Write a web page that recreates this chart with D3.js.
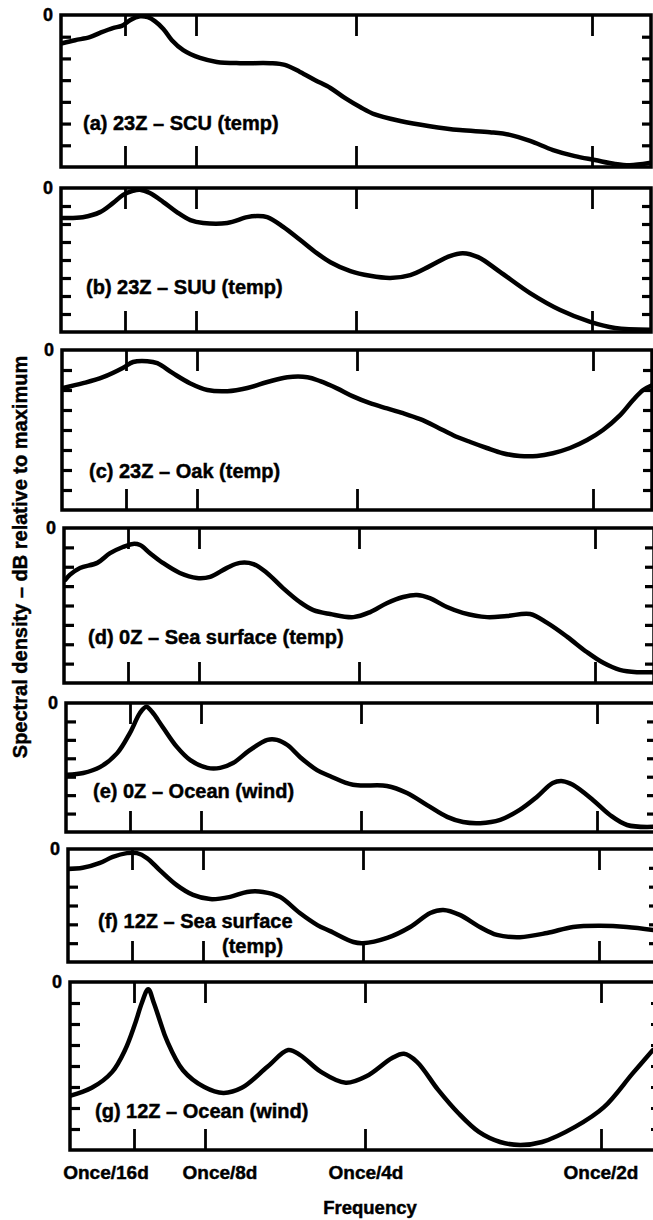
<!DOCTYPE html>
<html>
<head>
<meta charset="utf-8">
<script src="https://cdn.jsdelivr.net/npm/d3@7"></script>
<style>
  html, body { margin: 0; padding: 0; background: #fff; }
  svg { display: block; }
  text { font-family: "Liberation Sans", Arial, Helvetica, sans-serif; font-weight: bold; fill: #000; stroke: #000; stroke-width: 0.45px; }
</style>
</head>
<body>
<svg id="chart" width="653" height="1220"></svg>
<script>
// Frequency axis in cycles per 16 days: 1 = once/16d, 2 = once/8d, 4 = once/4d, 8 = once/2d
const freqTicks = [1, 2, 4, 8];
const freqTickLabels = ["Once/16d", "Once/8d", "Once/4d", "Once/2d"];

// Panel captions
const panelLabels = [
  ["(a) 23Z – SCU (temp)"],
  ["(b) 23Z – SUU (temp)"],
  ["(c) 23Z – Oak (temp)"],
  ["(d) 0Z – Sea surface (temp)"],
  ["(e) 0Z – Ocean (wind)"],
  ["(f) 12Z – Sea surface", "(temp)"],
  ["(g) 12Z – Ocean (wind)"]
];

// Lowest level shown in each panel (dB relative to maximum); ticks every 5 dB
const dbFloors = [-35, -40, -40, -40, -35, -30, -40];
const dbStep = 5;

// Spectral density curves (frequency in cycles/16 days, level in dB)
const aFreq = [0.02,0.22,0.45,0.61,0.81,0.95,1.07,1.21,1.32,1.42,1.54,1.66,1.82,2.05,2.26,2.55,2.93,3.11,3.30,3.49,3.68,3.86,4.07,4.32,4.75,5.25,5.76,6.27,6.61,6.95,7.34,7.71,8.05,8.39,8.64,8.97];
const aDb   = [-6.5,-5.8,-5.1,-4.1,-3.0,-2.5,-1.2,-0.3,-0.5,-1.4,-3.2,-5.8,-8.1,-9.9,-10.8,-11.1,-11.1,-11.5,-13.1,-15.0,-16.8,-19.1,-21.2,-22.9,-24.4,-25.6,-26.5,-27.0,-27.6,-29.0,-31.1,-32.5,-33.4,-34.3,-34.6,-34.1];

const bFreq = [0.03,0.34,0.61,0.81,0.97,1.11,1.21,1.35,1.54,1.73,1.92,2.09,2.39,2.64,2.76,2.89,3.09,3.30,3.51,3.68,3.93,4.24,4.58,4.92,5.25,5.59,5.81,6.07,6.44,6.95,7.46,7.97,8.39,8.98];
const bDb   = [-8.3,-8.1,-6.7,-4.2,-1.9,-0.8,-0.5,-1.4,-3.9,-6.7,-8.9,-9.7,-9.7,-8.1,-7.8,-8.1,-10.8,-14.4,-18.1,-20.6,-23.1,-24.4,-25.0,-24.2,-21.7,-18.9,-18.1,-19.2,-23.3,-29.2,-33.9,-37.2,-38.9,-39.4];

const cFreq = [0.02,0.33,0.64,0.95,1.10,1.30,1.44,1.66,1.90,2.13,2.38,2.63,2.88,3.13,3.38,3.54,3.75,3.95,4.22,4.51,4.78,5.07,5.36,5.63,5.92,6.20,6.47,6.76,7.05,7.32,7.61,7.90,8.17,8.46,8.68,8.85,9.0];
const cDb   = [-9.5,-8.3,-6.8,-4.5,-3.0,-2.8,-3.3,-5.8,-8.3,-10.0,-10.3,-9.5,-8.0,-6.8,-6.8,-7.8,-9.6,-11.6,-13.3,-14.6,-15.8,-17.3,-19.3,-21.3,-23.0,-24.5,-25.8,-26.5,-26.5,-25.8,-24.5,-22.5,-20.0,-16.3,-12.5,-10.0,-8.8];

const dFreq = [0.02,0.09,0.25,0.52,0.72,0.92,1.07,1.17,1.31,1.49,1.73,1.97,2.14,2.35,2.51,2.68,2.85,3.05,3.26,3.43,3.64,3.93,4.19,4.47,4.75,4.98,5.20,5.49,5.76,6.17,6.51,6.90,7.19,7.53,7.86,8.14,8.42,8.71,8.98];
const dDb   = [-13.4,-12.1,-10.3,-9.0,-6.5,-4.9,-4.1,-4.4,-6.5,-9.0,-11.6,-12.9,-12.6,-10.3,-9.0,-9.3,-11.6,-15.5,-19.1,-21.2,-22.2,-23.0,-21.7,-19.4,-17.8,-17.3,-18.1,-20.4,-21.9,-23.0,-22.7,-22.2,-24.5,-28.1,-32.0,-34.8,-36.6,-37.2,-37.2];

const eFreq = [0.02,0.27,0.53,0.80,1.00,1.14,1.23,1.31,1.46,1.66,1.85,2.08,2.24,2.40,2.61,2.83,2.95,3.08,3.24,3.45,3.61,3.90,4.44,4.78,5.12,5.46,5.73,6.02,6.36,6.69,6.98,7.25,7.42,7.59,7.93,8.22,8.51,8.95];
const eDb   = [-19.5,-19.0,-17.4,-13.6,-8.1,-2.7,-1.0,-2.4,-6.5,-11.9,-15.5,-17.6,-17.6,-16.3,-12.8,-10.0,-10.0,-11.4,-14.7,-18.2,-19.8,-22.2,-22.5,-24.4,-27.7,-30.9,-32.3,-32.6,-31.7,-29.0,-25.5,-21.7,-21.2,-22.2,-26.3,-30.4,-33.1,-33.6];

const fFreq = [0.0,0.23,0.50,0.70,0.92,1.07,1.21,1.39,1.63,1.86,2.09,2.34,2.55,2.75,2.96,3.21,3.43,3.59,3.88,4.00,4.41,4.80,5.14,5.36,5.64,5.98,6.27,6.66,7.12,7.56,8.02,8.47,8.92];
const fDb   = [-5.3,-5.0,-3.7,-2.1,-1.1,-1.1,-2.4,-5.6,-9.6,-12.2,-13.3,-12.7,-11.4,-11.4,-12.7,-17.0,-20.2,-21.8,-24.7,-25.0,-23.6,-20.7,-17.0,-16.2,-17.5,-20.7,-22.8,-23.4,-22.3,-20.7,-20.4,-20.7,-21.5];

const gFreq = [0.0,0.34,0.66,0.86,1.01,1.11,1.20,1.28,1.37,1.46,1.69,1.99,2.23,2.46,2.78,3.04,3.19,3.45,3.76,4.03,4.46,4.66,4.88,5.24,5.58,5.93,6.29,6.63,7.00,7.56,8.05,8.54,8.88];
const gDb   = [-27.1,-25.2,-21.4,-16.2,-10.2,-5.0,-1.7,-5.0,-9.5,-13.8,-21.0,-25.0,-26.4,-25.2,-20.2,-16.2,-17.4,-21.4,-24.0,-22.4,-18.1,-17.1,-19.0,-25.7,-31.2,-35.7,-38.1,-38.8,-38.1,-34.5,-29.8,-21.7,-16.2];

const seriesFreq = [aFreq, bFreq, cFreq, dFreq, eFreq, fFreq, gFreq];
const seriesDb   = [aDb, bDb, cDb, dDb, eDb, fDb, gDb];

// ---- layout ----
const svg = d3.select("#chart");
const boxes = [
  { left: 61, top: 15,  bottom: 167,  lx: 83, ly: 130 },
  { left: 61, top: 188, bottom: 332,  lx: 86, ly: 294 },
  { left: 62, top: 350, bottom: 510,  lx: 89, ly: 478 },
  { left: 64, top: 528, bottom: 683,  lx: 88, ly: 644 },
  { left: 66, top: 703, bottom: 832,  lx: 93, ly: 798 },
  { left: 68, top: 849, bottom: 962,  lx: 98, ly: 928, l2x: 222, l2y: 953 },
  { left: 70, top: 982, bottom: 1150, lx: 95, ly: 1118 }
];
// horizontal offsets (px from left edge) of the frequency grid points 0,1,2,4,8,9
const freqDomain = [0, 1, 2, 4, 8, 9];
const freqOffsets = [0, 64, 135, 295, 531, 590];

let lastX = null;

boxes.forEach((b, i) => {
  const x = d3.scaleLinear().domain(freqDomain).range(freqOffsets.map(o => b.left + o));
  const y = d3.scaleLinear().domain([dbFloors[i], 0]).range([b.bottom, b.top]);
  const right = x(9);
  lastX = x;

  const g = svg.append("g");

  // clip for the curve
  const clipId = "clip" + i;
  svg.append("clipPath").attr("id", clipId)
    .append("rect").attr("x", b.left).attr("y", b.top - 6)
    .attr("width", right - b.left).attr("height", b.bottom - b.top + 6);

  // inner dB ticks (every 5 dB)
  const inner = d3.range(dbFloors[i] + dbStep, 0, dbStep);
  g.append("g").attr("transform", `translate(${b.left},0)`)
    .call(d3.axisLeft(y).tickValues(inner).tickSize(-10).tickFormat(""))
    .call(s => { s.select(".domain").remove(); s.selectAll("line").attr("stroke", "#000").attr("stroke-width", 3.2); });
  g.append("g").attr("transform", `translate(${right},0)`)
    .call(d3.axisRight(y).tickValues(inner).tickSize(-9).tickFormat(""))
    .call(s => { s.select(".domain").remove(); s.selectAll("line").attr("stroke", "#000").attr("stroke-width", 3.2); });

  // frequency ticks on top and bottom edges
  g.append("g").attr("transform", `translate(0,${b.top})`)
    .call(d3.axisTop(x).tickValues(freqTicks).tickSize(-21).tickFormat(""))
    .call(s => { s.select(".domain").remove(); s.selectAll("line").attr("stroke", "#000").attr("stroke-width", 2.8); });
  g.append("g").attr("transform", `translate(0,${b.bottom})`)
    .call(d3.axisBottom(x).tickValues(freqTicks).tickSize(-21).tickFormat(""))
    .call(s => { s.select(".domain").remove(); s.selectAll("line").attr("stroke", "#000").attr("stroke-width", 2.8); });

  // frame
  g.append("rect")
    .attr("x", b.left).attr("y", b.top)
    .attr("width", right - b.left).attr("height", b.bottom - b.top)
    .attr("fill", "none").attr("stroke", "#000").attr("stroke-width", 3.5);

  // zero label
  g.append("text")
    .attr("x", b.left - 8).attr("y", b.top).attr("dy", "0.36em")
    .attr("text-anchor", "end").attr("font-size", 18).text("0");

  // curve
  const pts = seriesFreq[i].map((f, k) => [f, seriesDb[i][k]]);
  g.append("path")
    .attr("clip-path", `url(#${clipId})`)
    .attr("d", d3.line().x(d => x(d[0])).y(d => y(d[1])).curve(d3.curveCatmullRom.alpha(0.5))(pts))
    .attr("fill", "none").attr("stroke", "#000").attr("stroke-width", 4.5)
    .attr("stroke-linejoin", "round").attr("stroke-linecap", "round");

  // caption
  g.append("text").attr("x", b.lx).attr("y", b.ly).attr("font-size", 20).text(panelLabels[i][0]);
  if (panelLabels[i][1]) {
    g.append("text").attr("x", b.l2x).attr("y", b.l2y).attr("font-size", 20).text(panelLabels[i][1]);
  }
});

// frequency labels under the last panel
svg.append("g").selectAll("text")
  .data(freqTicks)
  .join("text")
  .attr("x", (d, k) => lastX(d) + [-28, 15, 1, 0][k])
  .attr("y", 1179)
  .attr("text-anchor", "middle")
  .attr("font-size", 19)
  .text((d, k) => freqTickLabels[k]);

svg.append("text")
  .attr("x", 370).attr("y", 1214)
  .attr("text-anchor", "middle").attr("font-size", 18.5)
  .text("Frequency");

svg.append("text")
  .attr("transform", "translate(27,557) rotate(-90)")
  .attr("text-anchor", "middle").attr("font-size", 20)
  .text("Spectral density – dB relative to maximum");
</script>
</body>
</html>
